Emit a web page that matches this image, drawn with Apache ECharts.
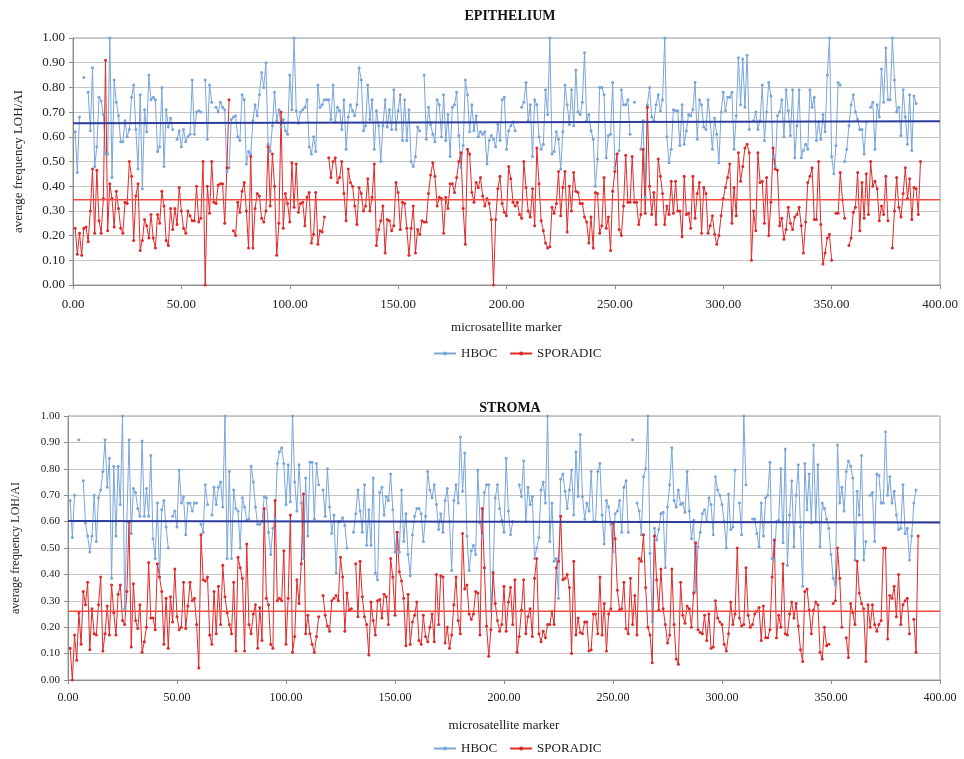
<!DOCTYPE html>
<html><head><meta charset="utf-8">
<script src="https://cdn.jsdelivr.net/npm/echarts@6/dist/echarts.min.js"></script>
<style>html,body{margin:0;padding:0;background:#fff}#c{width:964px;height:759px}</style>
</head><body><div id="c"></div>
<script>
const xTicks = [0, 50, 100, 150, 200, 250, 300, 350, 400];
const yTicks = [0, 0.1, 0.2, 0.3, 0.4, 0.5, 0.6, 0.7, 0.8, 0.9, 1.0];

const epiHBOC = [
0.62,0.455,0.68,null,0.84,null,0.78,0.625,0.88,0.48,0.56,0.76,0.745,0.69,0.53,0.53,1.00,0.435,0.83,0.74,
0.685,0.58,0.58,0.665,0.60,0.63,0.76,0.81,0.63,0.47,0.77,0.39,0.71,0.62,0.85,0.75,0.76,0.75,0.54,0.56,
0.80,0.48,0.71,0.64,0.675,0.63,null,0.59,0.625,0.56,0.63,0.58,0.60,0.61,0.83,0.61,0.70,0.705,0.70,null,
0.83,0.59,0.81,0.74,null,0.72,0.70,0.74,0.72,0.71,0.46,0.475,0.67,0.68,0.685,0.60,0.585,0.77,0.75,0.49,
0.54,0.53,0.665,0.73,0.685,0.77,0.86,0.80,0.90,0.57,0.54,0.645,0.78,0.665,0.71,0.64,0.67,0.625,
0.61,0.85,0.71,1.00,0.705,0.655,0.70,0.71,0.72,0.75,0.56,0.53,0.60,0.54,0.81,0.72,0.73,0.75,0.75,0.75,
0.67,0.81,0.66,0.72,0.705,0.63,0.75,0.55,0.68,0.73,0.705,0.685,0.73,0.88,0.83,0.625,0.645,0.81,0.67,0.75,
0.55,0.705,0.645,0.50,0.645,0.75,0.64,0.71,0.63,0.79,0.63,0.705,0.77,0.585,0.75,0.585,0.71,0.50,0.48,0.52,
0.64,0.625,null,0.85,0.59,0.72,0.65,0.61,0.58,0.75,0.73,0.60,0.77,0.585,0.69,0.52,0.72,0.73,0.78,0.605,
0.475,0.565,0.83,0.77,0.62,0.73,0.625,0.685,0.60,0.62,0.61,0.62,0.49,0.585,0.605,0.59,0.56,0.65,0.585,0.75,
0.76,0.55,
0.625,0.645,0.66,0.625,null,null,0.72,0.74,0.82,0.665,0.73,0.52,0.75,0.73,0.60,0.55,0.57,0.79,0.69,1.00,
0.53,0.54,0.62,0.59,0.47,0.62,0.81,0.73,0.65,0.79,0.645,0.87,0.70,0.69,0.74,0.94,0.665,0.69,0.625,0.59,
0.40,0.51,0.80,0.80,0.77,0.515,0.605,0.61,0.82,0.475,0.53,0.545,0.79,0.73,0.73,0.75,0.61,null,0.74,null,
null,0.55,0.665,0.355,0.73,0.80,0.68,0.665,0.73,0.77,0.705,0.75,1.00,0.60,0.495,0.55,0.71,0.705,0.705,0.565,
0.73,0.57,0.625,0.69,0.685,0.71,0.82,0.59,0.75,0.73,0.64,0.63,0.75,0.66,0.55,0.675,0.61,0.495,0.70,0.78,
0.705,
0.76,0.76,0.78,0.55,0.685,0.92,0.73,0.915,0.72,0.93,0.63,null,0.665,0.70,0.63,0.665,0.81,0.585,0.70,0.82,
0.765,0.52,0.48,0.685,0.70,0.75,0.60,0.79,0.705,0.605,0.79,0.515,0.645,0.79,0.515,0.545,0.57,0.55,0.79,0.72,
0.76,0.585,0.66,0.59,0.69,0.62,0.85,1.00,0.52,0.45,0.565,0.82,0.81,null,0.50,0.55,0.645,0.73,0.77,0.70,
0.67,0.63,0.63,0.53,0.66,null,0.72,0.74,0.55,0.73,0.68,0.875,0.74,0.96,0.75,0.75,1.00,0.83,0.70,0.72,
0.605,0.79,0.68,0.57,0.77,0.545,0.765,0.735
];

const epiSPOR = [
0.23,0.125,0.21,0.12,0.23,0.235,0.175,0.30,0.47,0.21,0.465,0.26,0.21,0.35,0.91,0.22,0.41,0.35,0.235,0.38,
0.31,0.23,0.21,0.335,0.33,0.50,0.44,0.18,0.36,0.41,0.14,0.18,0.265,0.24,0.19,0.285,0.19,0.15,0.285,0.25,
0.38,0.32,0.18,0.16,0.31,0.225,0.31,0.245,0.395,0.30,0.23,0.21,0.30,0.28,0.26,0.26,0.40,0.255,0.27,0.50,
0.00,0.40,0.29,0.50,0.335,0.33,0.405,0.41,0.41,0.25,0.475,0.75,null,0.22,0.20,0.335,0.295,0.38,0.415,0.30,
0.15,0.52,0.15,0.31,0.37,0.36,0.27,0.255,0.30,0.56,0.32,0.53,0.40,0.12,0.25,0.70,
0.23,0.37,0.33,0.255,0.495,0.315,0.49,0.295,0.33,0.335,0.24,0.355,0.375,0.17,0.205,0.375,0.165,0.22,0.215,0.275,
null,0.515,0.435,0.50,0.515,0.415,0.435,0.50,0.37,0.26,0.47,0.415,0.40,0.32,0.245,0.395,0.37,0.30,0.32,0.43,
0.30,0.355,0.49,0.16,0.225,0.26,0.32,0.13,0.265,0.26,0.22,0.24,0.415,0.375,0.225,0.335,0.33,0.23,0.12,0.23,
0.32,0.13,0.225,0.205,0.26,0.255,0.255,0.37,0.445,0.495,0.44,0.32,0.355,0.35,0.21,0.355,0.31,0.41,0.41,0.375,
0.435,0.50,0.535,0.31,0.165,0.55,0.53,0.375,0.335,0.415,0.395,0.435,0.36,0.32,0.35,0.33,0.265,0.00,0.265,0.39,
0.44,0.33,0.295,0.28,0.48,0.43,
0.335,0.32,0.335,0.285,0.27,0.50,0.395,0.30,0.275,0.39,0.24,0.555,0.41,0.26,0.22,0.17,0.15,0.155,0.315,0.29,
0.33,0.46,0.28,0.395,0.46,0.215,0.40,0.30,0.455,0.38,0.375,0.33,0.33,0.275,0.255,0.17,0.275,0.15,0.375,0.37,
0.21,0.24,0.435,0.23,0.275,0.14,0.38,0.46,0.53,0.225,0.20,0.32,0.525,0.335,0.335,0.52,0.335,0.335,0.245,0.285,
0.55,0.29,0.72,0.40,0.285,0.375,0.245,0.51,0.44,0.37,0.245,0.32,0.285,0.42,0.29,0.42,0.30,0.30,0.195,0.44,
0.285,0.29,0.23,0.44,0.27,0.37,0.415,0.21,0.395,0.37,0.21,0.24,0.28,0.205,0.165,0.20,0.28,0.35,0.395,0.435,
0.49,0.25,0.395,0.28,0.535,0.42,0.48,0.555,0.57,0.535,0.10,0.30,0.22,0.535,0.415,0.42,0.25,0.435,0.20,0.335,
0.555,0.47,0.465,0.24,0.27,0.185,0.225,0.315,0.25,0.225,0.275,0.285,0.315,0.24,0.13,0.255,0.415,0.44,0.475,0.265,
0.265,0.50,0.245,0.085,0.13,0.19,0.205,0.10,null,0.29,0.29,0.455,0.345,0.27,null,0.16,0.19,0.295,0.315,0.455,
0.22,0.415,0.27,0.45,0.285,0.50,0.40,0.42,0.39,0.26,0.32,0.285,0.44,0.26,null,0.15,0.30,0.435,0.315,0.275,
0.37,0.475,0.35,0.43,0.265,0.395,0.39,0.285,0.50
];

const strHBOC = [
0.68,0.54,0.70,null,0.91,null,0.755,0.595,0.545,0.485,0.545,0.70,0.525,0.69,0.72,0.79,0.91,0.73,0.84,0.385,
0.81,0.545,0.81,0.665,1.00,0.27,0.60,0.91,0.555,0.725,0.71,0.65,0.62,0.905,0.62,0.725,0.62,0.85,0.535,0.46,
0.67,0.39,0.645,0.68,0.58,0.50,null,0.62,0.64,0.58,0.795,0.67,0.695,0.55,0.67,0.67,0.64,0.67,0.67,null,
0.59,0.56,0.74,0.665,null,0.625,0.73,0.665,0.73,0.75,0.655,1.00,0.46,0.79,0.46,0.72,0.65,0.64,0.50,0.69,
0.655,0.605,0.61,0.81,0.75,0.655,0.59,0.59,0.60,0.695,0.69,0.56,0.475,0.575,0.61,0.82,0.865,0.88,0.82,0.665,
0.815,0.675,1.00,0.75,0.64,0.815,0.67,0.46,0.765,0.545,0.825,0.825,0.61,0.82,0.74,null,0.72,0.62,0.80,0.655,
0.555,0.625,0.405,0.60,0.60,0.615,0.585,0.50,null,null,0.56,0.63,0.72,0.64,0.56,0.74,0.51,0.645,0.51,0.765,
0.405,0.38,0.71,0.73,0.625,0.695,0.68,0.78,0.645,0.485,0.56,0.485,0.72,0.525,0.63,0.475,0.395,0.55,0.62,
0.65,0.65,0.63,0.525,0.62,0.79,0.72,0.69,0.74,0.665,0.57,0.63,0.56,0.68,0.725,0.60,0.415,0.68,0.74,0.67,
0.92,0.715,0.86,0.545,0.415,0.49,0.51,0.475,0.795,0.595,0.545,0.71,0.74,0.74,0.26,0.41,0.69,0.74,0.65,0.605,
0.56,0.84,
0.64,0.55,0.60,null,null,0.74,0.695,0.83,0.60,0.73,0.665,0.695,0.46,0.50,0.54,0.72,0.75,0.67,1.00,0.525,
0.67,0.45,0.46,0.31,0.76,0.78,0.715,0.65,0.72,0.795,0.625,0.865,0.695,0.93,0.695,0.61,0.67,0.64,0.79,0.60,
0.60,0.79,0.82,0.625,0.515,0.68,0.655,0.59,0.485,0.63,0.64,0.68,0.56,0.73,0.755,0.56,null,0.91,null,0.67,
0.64,0.55,0.77,0.80,1.00,0.48,0.22,0.575,0.53,0.57,0.63,0.635,0.425,0.655,0.74,0.88,0.68,0.655,0.72,0.665,
0.67,0.635,0.79,0.64,0.535,0.605,0.335,0.505,0.56,0.63,0.645,0.60,0.69,0.665,0.55,0.77,0.72,0.70,0.665,0.60,
0.50,
0.705,0.57,0.58,0.795,null,0.67,0.55,1.00,0.74,null,null,0.61,0.61,0.555,0.505,0.67,0.545,0.69,0.70,0.825,
0.46,0.455,0.60,0.605,0.80,0.52,0.875,0.435,0.625,0.755,0.505,0.70,0.815,0.58,0.355,0.82,0.645,0.78,0.595,0.89,
0.60,0.815,0.505,0.67,0.65,0.61,0.575,0.475,0.385,0.36,0.89,0.67,0.73,0.64,0.79,0.83,0.81,0.765,0.455,0.715,
0.625,0.85,0.455,0.525,null,0.70,0.71,0.525,0.78,0.775,0.67,0.67,0.94,0.70,0.77,0.67,0.715,0.625,0.57,0.575,
0.74,0.555,0.575,0.455,0.545,0.67,0.72
];

const strSPOR = [
0.12,0.0,0.17,0.075,0.255,0.135,0.335,0.285,0.37,0.115,0.27,0.175,0.17,0.285,0.39,0.11,0.175,0.28,0.17,0.36,
0.255,0.17,0.325,0.36,0.225,0.21,0.335,0.60,0.125,0.365,0.225,0.195,0.285,0.105,0.145,0.20,0.445,0.235,0.235,0.19,
0.44,0.39,0.335,0.135,0.31,0.12,0.315,0.22,0.42,0.24,0.19,0.20,0.37,0.195,0.28,0.37,0.30,0.31,0.21,0.045,
0.55,0.38,0.375,0.39,0.17,0.135,0.335,0.175,0.355,0.21,0.435,0.315,0.255,0.21,0.175,0.37,0.11,0.465,0.425,0.385,
0.11,0.515,0.21,0.175,0.25,0.285,0.12,0.275,0.15,0.65,0.31,0.285,0.135,0.12,0.68,0.30,0.31,0.30,0.49,0.135,
0.31,0.625,0.105,0.165,0.38,0.29,0.44,0.705,0.175,0.245,0.175,0.135,0.105,0.165,0.24,null,0.32,0.245,0.205,0.185,
0.30,0.31,0.32,0.30,0.465,0.39,0.185,0.33,0.265,0.27,null,0.44,0.24,0.45,0.315,0.24,0.21,0.095,0.295,0.225,
0.17,0.30,0.305,0.235,0.325,0.315,0.21,0.46,0.39,0.245,0.56,0.41,0.375,0.31,0.13,0.325,0.135,0.22,0.245,0.295,
0.15,0.135,0.245,0.165,0.145,0.20,0.25,0.145,0.40,0.21,0.395,0.39,0.14,0.20,0.12,0.17,0.285,0.39,0.225,0.175,
0.555,0.345,0.36,0.25,0.23,0.25,0.335,0.33,0.17,0.65,0.425,0.205,0.09,0.19,0.405,0.29,0.225,0.185,0.21,0.355,
0.185,0.295,
0.35,0.21,0.38,0.105,0.165,0.265,0.38,0.175,0.24,0.27,0.165,0.385,0.46,0.175,0.145,0.185,0.16,0.21,0.21,0.26,
0.21,0.425,0.45,0.62,0.38,0.385,0.40,0.35,0.10,0.45,0.17,0.235,0.18,0.175,0.22,0.22,0.11,0.115,0.25,0.25,
0.175,0.39,0.17,0.29,0.11,0.25,0.27,0.595,0.535,0.34,0.265,0.27,0.37,0.195,0.175,0.385,0.21,0.32,0.17,0.46,
0.45,0.55,0.35,0.20,0.17,0.065,0.545,0.38,0.265,0.42,0.27,0.21,0.14,0.17,0.42,0.21,0.08,0.06,0.37,0.245,
0.215,0.28,0.27,0.20,0.33,0.52,0.19,0.18,0.175,0.245,0.15,0.25,0.12,0.125,0.30,0.235,0.22,0.21,0.135,0.11,
0.175,
0.295,0.21,0.25,0.50,0.235,0.205,0.21,0.425,0.245,0.20,0.21,0.25,0.26,0.275,0.15,0.28,0.16,0.16,0.19,0.39,
0.53,0.16,0.245,0.20,0.44,0.175,0.17,0.25,0.295,0.235,0.29,0.205,0.115,0.07,0.335,0.345,0.265,0.175,0.265,0.295,
0.285,0.105,0.08,0.20,0.13,0.135,null,0.29,0.30,0.50,0.385,0.20,null,0.16,0.085,0.29,0.255,0.21,0.45,0.33,
0.29,0.27,0.07,0.285,0.20,0.285,0.21,0.185,0.21,0.225,0.50,0.50,0.155,0.32,0.31,0.355,0.24,0.40,0.21,0.285,
0.30,0.31,0.175,null,0.23,0.105,0.545
];

// Average lines (start and end values)
const epiHBOCMean = [0.655, 0.663];
const epiSPORMean = [0.345, 0.345];
const strHBOCMean = [0.602, 0.597];
const strSPORMean = [0.26, 0.26];
const meanX = [0, 400];

const pairs = arr => arr.map((v, i) => [i + 1, v]);
const meanPairs = arr => arr.map((v, i) => [meanX[i], v]);

const FONT = '"Liberation Serif", "DejaVu Serif", serif';
const BLUE = '#7aa5db';
const RED = '#e02a2a';
const NAVY = '#2c3c9c';
const RED2 = '#f24a40';

function xAxis(gi, fs) {
  return {
    type: 'value', gridIndex: gi, min: 0, max: 400, interval: 50,
    name: 'microsatellite marker', nameLocation: 'middle', nameGap: gi === 0 ? 36 : 39,
    nameTextStyle: { fontFamily: FONT, fontSize: 13, color: '#222' },
    axisLine: { show: true, lineStyle: { color: '#8c8c8c' } },
    axisTick: { show: true, inside: false, length: 4, lineStyle: { color: '#8c8c8c' } },
    axisLabel: { fontFamily: FONT, fontSize: fs, color: '#222', margin: gi === 0 ? 13 : 12,
      formatter: v => v.toFixed(2) },
    splitLine: { show: false }
  };
}
function yAxis(gi, fs) {
  return {
    type: 'value', gridIndex: gi, min: 0, max: 1, interval: 0.1,
    name: 'average frequency LOH/AI', nameLocation: 'middle', nameGap: gi === 0 ? 48 : 46,
    nameTextStyle: { fontFamily: FONT, fontSize: gi === 0 ? 13 : 12, color: '#222' },
    axisLine: { show: true, lineStyle: { color: '#8c8c8c' } },
    axisTick: { show: true, length: 4, lineStyle: { color: '#8c8c8c' } },
    axisLabel: { fontFamily: FONT, fontSize: fs, color: '#222', margin: 8,
      formatter: v => v.toFixed(2) },
    splitLine: { show: true, lineStyle: { color: '#c4c4c4', width: 1 } }
  };
}
function dataSeries(name, arr, color, gi) {
  return {
    name, type: 'line', xAxisIndex: gi, yAxisIndex: gi, data: pairs(arr),
    connectNulls: false, symbol: 'circle', symbolSize: 3, showSymbol: true,
    lineStyle: { color, width: 1 }, itemStyle: { color },
    animation: false, z: 3
  };
}
function meanSeries(name, arr, color, gi, w) {
  return {
    name, type: 'line', xAxisIndex: gi, yAxisIndex: gi, data: meanPairs(arr),
    symbol: 'none', lineStyle: { color, width: w }, itemStyle: { color },
    animation: false, z: 4, silent: true
  };
}

const chart = echarts.init(document.getElementById('c'));
chart.setOption({
  backgroundColor: '#fff',
  animation: false,
  title: [
    { text: 'EPITHELIUM', left: 505, top: 4, textAlign: 'center',
      textStyle: { fontFamily: FONT, fontSize: 14, fontWeight: 'bold', color: '#111' } },
    { text: 'STROMA', left: 505, top: 396, textAlign: 'center',
      textStyle: { fontFamily: FONT, fontSize: 14, fontWeight: 'bold', color: '#111' } }
  ],
  legend: [
    { data: ['HBOC', 'SPORADIC'], top: 342, left: 428, itemWidth: 22, itemHeight: 5, itemGap: 12,
      textStyle: { fontFamily: FONT, fontSize: 13, color: '#222' } },
    { data: ['HBOC', 'SPORADIC'], top: 737, left: 428, itemWidth: 22, itemHeight: 5, itemGap: 12,
      textStyle: { fontFamily: FONT, fontSize: 13, color: '#222' } }
  ],
  grid: [
    { left: 73, right: 24, top: 38, height: 247, show: true, borderColor: '#9a9a9a', borderWidth: 1, backgroundColor: 'transparent' },
    { left: 68, right: 24, top: 416, height: 264, show: true, borderColor: '#9a9a9a', borderWidth: 1, backgroundColor: 'transparent' }
  ],
  xAxis: [xAxis(0, 13), xAxis(1, 12)],
  yAxis: [yAxis(0, 13), yAxis(1, 11)],
  series: [
    dataSeries('HBOC', epiHBOC, BLUE, 0),
    dataSeries('SPORADIC', epiSPOR, RED, 0),
    meanSeries('HBOC mean', epiHBOCMean, NAVY, 0, 2),
    meanSeries('SPORADIC mean', epiSPORMean, RED2, 0, 1.5),
    dataSeries('HBOC', strHBOC, BLUE, 1),
    dataSeries('SPORADIC', strSPOR, RED, 1),
    meanSeries('HBOC mean', strHBOCMean, NAVY, 1, 2),
    meanSeries('SPORADIC mean', strSPORMean, RED2, 1, 1.5)
  ]
});
</script>
</body></html>
